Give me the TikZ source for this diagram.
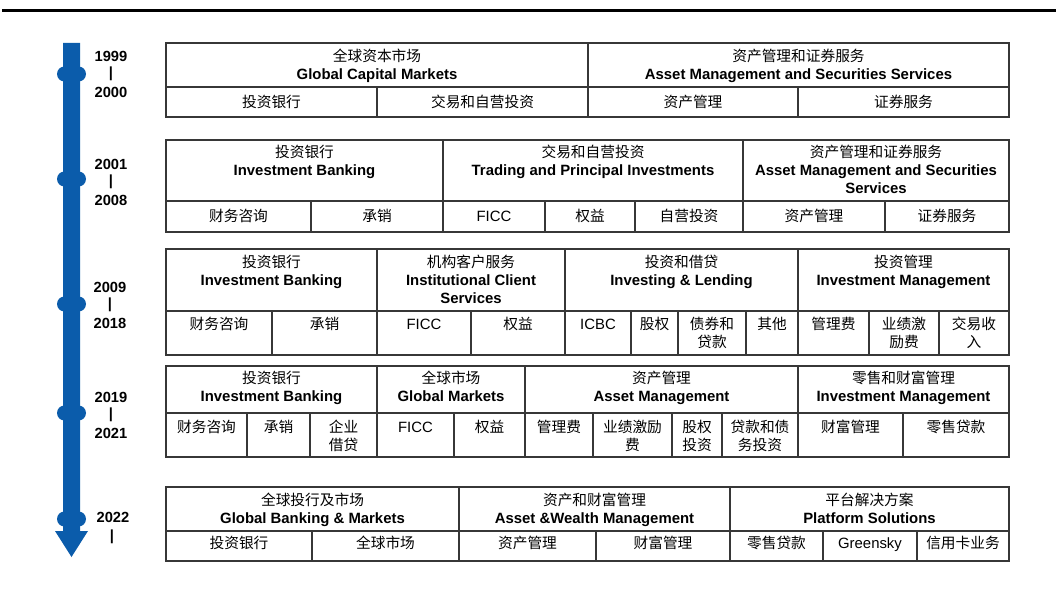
\documentclass[tikz,border=0pt]{standalone}
\usepackage{fontspec}
\setmainfont{Liberation Sans}
\newfontfamily\cjk{Noto Sans CJK SC}
\definecolor{tlblue}{RGB}{11,92,171}
\definecolor{gridc}{RGB}{55,55,55}
\tikzset{
  gridline/.style={draw=gridc, line width=1.1pt},
  en/.style={font=\fontsize{14.9}{18}\selectfont\bfseries, inner sep=0pt, anchor=base},
  cn/.style={font=\fontsize{14.7}{18}\selectfont\cjk, inner sep=0pt, anchor=base},
  lt/.style={font=\fontsize{14.9}{18}\selectfont, inner sep=0pt, anchor=base},
  yr/.style={font=\fontsize{14.7}{18}\selectfont\bfseries, inner sep=0pt, anchor=base},
  ybar/.style={font=\fontsize{14.7}{18}\selectfont\bfseries, inner sep=0pt, anchor=center},
  tdot/.style={fill=tlblue, rounded corners=7.5pt},
}
% header: name, x1, x2, y(first line centre), chinese, english
\newcommand\hdr[6]{%
  \node[cn] (#1c) at ({(#2+#3)/2},{#4+5.4}) {#5};
  \node[en] (#1e) at ({(#2+#3)/2},{#4+18+5.4}) {#6};}
\newcommand\hdrr[7]{%
  \node[cn] (#1c) at ({(#2+#3)/2},{#4+5.4}) {#5};
  \node[en] (#1e) at ({(#2+#3)/2},{#4+18+5.4}) {#6};
  \node[en] (#1f) at ({(#2+#3)/2},{#4+36+5.4}) {#7};}
% sub cells
\newcommand\sbc[5]{\node[cn] (#1) at ({(#2+#3)/2},{#4+5.4}) {#5};}
\newcommand\sbl[5]{\node[lt] (#1) at ({(#2+#3)/2},{#4+5.4}) {#5};}
\newcommand\sbcc[6]{%
  \node[cn] (#1a) at ({(#2+#3)/2},{#4+5.4}) {#5};
  \node[cn] (#1b) at ({(#2+#3)/2},{#4+18+5.4}) {#6};}
\newcommand\yrs[5]{% name, x, y top label, top, bottom
  \node[yr] (#1a) at (#2,{#3+5.3}) {#4};
  \node[ybar] (#1b) at (#2,{#3+18}) {|};
  \node[yr] (#1c) at (#2,{#3+36+5.3}) {#5};}
\begin{document}
\begin{tikzpicture}[x=1pt,y=-1pt]
\useasboundingbox (0,0) rectangle (1056,593);
% top rule
\draw[line width=3pt] (2,10.4) -- (1056,10.4);
% timeline
\fill[tlblue] (63,43) -- (80,43) -- (80,531) -- (88,531) -- (71.5,557) -- (55,531) -- (63,531) -- cycle;
\foreach \yy in {74,179,304,413,519}
  \fill[tdot] (57,\yy-7.5) rectangle (86,\yy+7.5);
\yrs{ya}{111}{56}{1999}{2000}
\yrs{yb}{111}{164}{2001}{2008}
\yrs{yc}{110}{287}{2009}{2018}
\yrs{yd}{111}{397}{2019}{2021}
\node[yr] (yea) at (113,{517+5.3}) {2022};
\node[ybar] (yeb) at (112,537) {|};

% ---------- Row 1 ----------
\draw[gridline] (166,43) rectangle (1009,117);
\draw[gridline] (166,87) -- (1009,87);
\draw[gridline] (588,43) -- (588,117);
\foreach \xx in {377,798} \draw[gridline] (\xx,87) -- (\xx,117);
\hdr{ra}{166}{588}{56}{全球资本市场}{Global Capital Markets}
\hdr{rb}{588}{1009}{56}{资产管理和证券服务}{Asset Management and Securities Services}
\sbc{ra1}{166}{377}{102}{投资银行}
\sbc{ra2}{377}{588}{102}{交易和自营投资}
\sbc{ra3}{588}{798}{102}{资产管理}
\sbc{ra4}{798}{1009}{102}{证券服务}

% ---------- Row 2 ----------
\draw[gridline] (166,140) rectangle (1009,232);
\draw[gridline] (166,201) -- (1009,201);
\foreach \xx in {443,743} \draw[gridline] (\xx,140) -- (\xx,232);
\foreach \xx in {311,545,635,885} \draw[gridline] (\xx,201) -- (\xx,232);
\hdr{sa}{166}{443}{152}{投资银行}{Investment Banking}
\hdr{sb}{443}{743}{152}{交易和自营投资}{Trading and Principal Investments}
\hdrr{sc}{743}{1009}{152}{资产管理和证券服务}{Asset Management and Securities}{Services}
\sbc{sa1}{166}{311}{216}{财务咨询}
\sbc{sa2}{311}{443}{216}{承销}
\sbl{sa3}{443}{545}{216}{FICC}
\sbc{sa4}{545}{635}{216}{权益}
\sbc{sa5}{635}{743}{216}{自营投资}
\sbc{sa6}{743}{885}{216}{资产管理}
\sbc{sa7}{885}{1009}{216}{证券服务}

% ---------- Row 3 ----------
\draw[gridline] (166,249) rectangle (1009,355);
\draw[gridline] (166,311) -- (1009,311);
\foreach \xx in {377,565,798} \draw[gridline] (\xx,249) -- (\xx,355);
\foreach \xx in {272,471,631,678,746,869,939} \draw[gridline] (\xx,311) -- (\xx,355);
\hdr{ta}{166}{377}{262}{投资银行}{Investment Banking}
\hdrr{tb}{377}{565}{262}{机构客户服务}{Institutional Client}{Services}
\hdr{tc}{565}{798}{262}{投资和借贷}{Investing \& Lending}
\hdr{td}{798}{1009}{262}{投资管理}{Investment Management}
\sbc{ta1}{166}{272}{324}{财务咨询}
\sbc{ta2}{272}{377}{324}{承销}
\sbl{ta3}{377}{471}{324}{FICC}
\sbc{ta4}{471}{565}{324}{权益}
\sbl{ta5}{565}{631}{324}{ICBC}
\sbc{ta6}{631}{678}{324}{股权}
\sbcc{ta7}{678}{746}{324}{债券和}{贷款}
\sbc{ta8}{746}{798}{324}{其他}
\sbc{ta9}{798}{869}{324}{管理费}
\sbcc{ta10}{869}{939}{324}{业绩激}{励费}
\sbcc{ta11}{939}{1009}{324}{交易收}{入}

% ---------- Row 4 ----------
\draw[gridline] (166,366) rectangle (1009,457);
\draw[gridline] (166,413) -- (1009,413);
\foreach \xx in {377,525,798} \draw[gridline] (\xx,366) -- (\xx,457);
\foreach \xx in {247,310,454,593,672,722,903} \draw[gridline] (\xx,413) -- (\xx,457);
\hdr{ua}{166}{377}{378}{投资银行}{Investment Banking}
\hdr{ub}{377}{525}{378}{全球市场}{Global Markets}
\hdr{uc}{525}{798}{378}{资产管理}{Asset Management}
\hdr{ud}{798}{1009}{378}{零售和财富管理}{Investment Management}
\sbc{ua1}{166}{247}{427}{财务咨询}
\sbc{ua2}{247}{310}{427}{承销}
\sbcc{ua3}{310}{377}{427}{企业}{借贷}
\sbl{ua4}{377}{454}{427}{FICC}
\sbc{ua5}{454}{525}{427}{权益}
\sbc{ua6}{525}{593}{427}{管理费}
\sbcc{ua7}{593}{672}{427}{业绩激励}{费}
\sbcc{ua8}{672}{722}{427}{股权}{投资}
\sbcc{ua9}{722}{798}{427}{贷款和债}{务投资}
\sbc{ua10}{798}{903}{427}{财富管理}
\sbc{ua11}{903}{1009}{427}{零售贷款}

% ---------- Row 5 ----------
\draw[gridline] (166,487) rectangle (1009,561);
\draw[gridline] (166,531) -- (1009,531);
\foreach \xx in {459,730} \draw[gridline] (\xx,487) -- (\xx,561);
\foreach \xx in {312,596,823,917} \draw[gridline] (\xx,531) -- (\xx,561);
\hdr{va}{166}{459}{500}{全球投行及市场}{Global Banking \& Markets}
\hdr{vb}{459}{730}{500}{资产和财富管理}{Asset \&Wealth Management}
\hdr{vc}{730}{1009}{500}{平台解决方案}{Platform Solutions}
\sbc{va1}{166}{312}{543}{投资银行}
\sbc{va2}{312}{459}{543}{全球市场}
\sbc{va3}{459}{596}{543}{资产管理}
\sbc{va4}{596}{730}{543}{财富管理}
\sbc{va5}{730}{823}{543}{零售贷款}
\sbl{va6}{823}{917}{543}{Greensky}
\sbc{va7}{917}{1009}{543}{信用卡业务}
\end{tikzpicture}
\end{document}
